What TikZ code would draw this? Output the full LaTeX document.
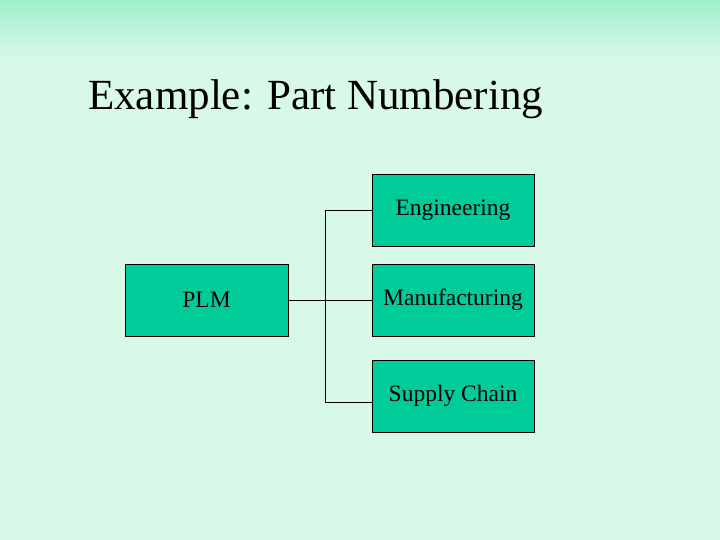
\documentclass[tikz,border=0pt]{standalone}
\usepackage{fontspec}
\setmainfont{Liberation Serif}
\begin{document}
\begin{tikzpicture}[x=1pt,y=-1pt,
  box/.style={draw=black,fill={rgb,255:red,0;green,204;blue,153},minimum width=162pt,minimum height=72pt,inner sep=0pt,font=\fontsize{23.5}{26}\selectfont},
  conn/.style={draw=black,line width=0.6pt}]
\definecolor{bgl}{RGB}{216,248,232}
\definecolor{bgt}{RGB}{160,240,205}
\fill[bgl] (0,0) rectangle (720,540);
\shade[top color=bgt,bottom color=bgl] (0,0) rectangle (720,60);
\useasboundingbox (0,0) rectangle (720,540);
\node[anchor=base west,font=\fontsize{43}{50}\selectfont,inner sep=0pt] (title) at (88,110) {Example: Part Numbering};
\node[box] (eng) at (453,210) {Engineering};
\node[box] (man) at (453,300) {Manufacturing};
\node[box] (sup) at (453,396) {Supply Chain};
\node[box,minimum width=163pt] (plm) at (206.5,300) {PLM};
\coordinate (j) at (325,300);
\draw[conn] (plm.east) -- (man.west);
\draw[conn] (eng.west) -- (325,210) -- (325,402) -- (sup.west |- 0,402);
\end{tikzpicture}
\end{document}
